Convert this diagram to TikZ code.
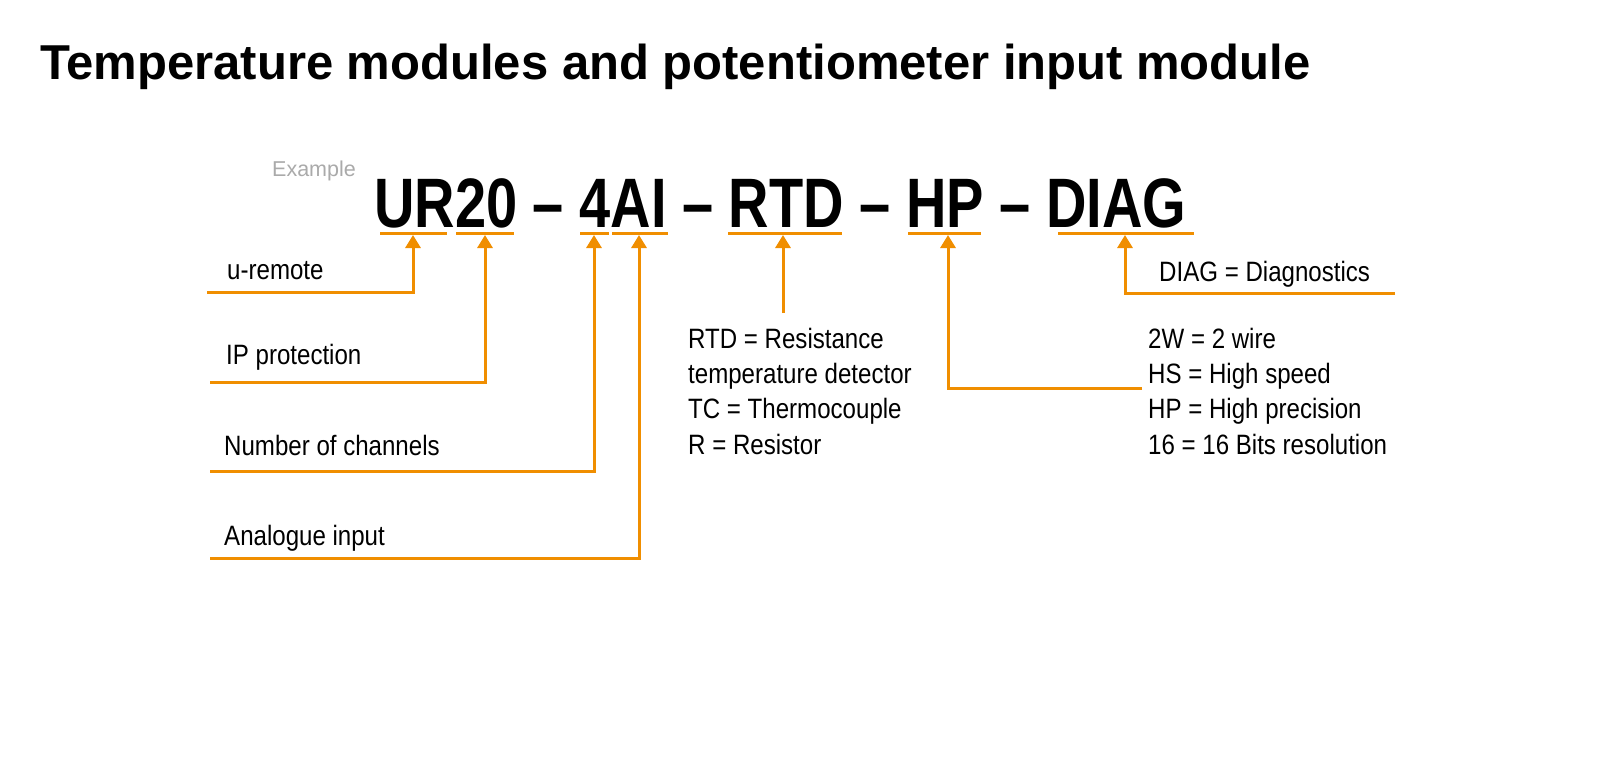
\documentclass[tikz,border=0pt]{standalone}
\usepackage{fontspec}
\setmainfont{Liberation Sans}
\newfontfamily\narrowfont{Liberation Sans}[FakeStretch=0.86]
\newfontfamily\codefont{Liberation Sans Bold}[FakeStretch=0.80]
\usetikzlibrary{arrows.meta}
\definecolor{wmorange}{RGB}{240,142,0}
\definecolor{examplegray}{RGB}{170,170,170}
\tikzset{
  lbl/.style={anchor=base west, inner sep=0pt, font=\narrowfont\fontsize{28}{34}\selectfont, text=black},
  uline/.style={draw=wmorange, line width=3pt},
  conn/.style={draw=wmorange, line width=3pt, line join=miter, -{Triangle[length=13pt,width=15pt]}},
}
\begin{document}
\begin{tikzpicture}[x=1pt,y=-1pt]
\useasboundingbox[fill=white] (0,0) rectangle (1600,765);
% title
\node[anchor=base west, inner sep=0pt, font=\bfseries\fontsize{49}{57}\selectfont] (title) at (40,80) {Temperature modules and potentiometer input module};
\node[anchor=base west, inner sep=0pt, text=examplegray, font=\fontsize{21.5}{25}\selectfont] (example) at (272,176) {Example};
% code
\node[anchor=base west, inner sep=0pt, font=\codefont\fontsize{70}{80}\selectfont] (code) at (374,227) {UR20 – 4AI – RTD – HP – DIAG};
% underline anchor points
\coordinate (uUR) at (413,235);
\coordinate (u20) at (485,235);
\coordinate (u4) at (594,235);
\coordinate (uAI) at (639,235);
\coordinate (uRTD) at (783,235);
\coordinate (uHP) at (948,235);
\coordinate (uDIAG) at (1125,235);
\draw[uline] (380,233.5) -- (447,233.5);
\draw[uline] (456,233.5) -- (514,233.5);
\draw[uline] (580,233.5) -- (609,233.5);
\draw[uline] (612,233.5) -- (668,233.5);
\draw[uline] (728,233.5) -- (842,233.5);
\draw[uline] (908,233.5) -- (981,233.5);
\draw[uline] (1058,233.5) -- (1194,233.5);
% left labels
\node[lbl] (lur) at (227,279) {u-remote};
\node[lbl] (lip) at (226,364) {IP protection};
\node[lbl] (lnum) at (224,455) {Number of channels};
\node[lbl] (lana) at (224,545) {Analogue input};
\coordinate (sUR) at (207,292);
\coordinate (sIP) at (210,382);
\coordinate (sNUM) at (210,471);
\coordinate (sANA) at (210,558);
\draw[conn] (sUR) -| (uUR);
\draw[conn] (sIP) -| (u20);
\draw[conn] (sNUM) -| (u4);
\draw[conn] (sANA) -| (uAI);
% RTD block
\coordinate (sRTD) at (783,313);
\draw[conn] (sRTD) -- (uRTD);
\node[lbl] (rtd1) at (688,348) {RTD = Resistance};
\node[lbl] (rtd2) at (688,383.3) {temperature detector};
\node[lbl] (rtd3) at (688,418.6) {TC = Thermocouple};
\node[lbl] (rtd4) at (688,454) {R = Resistor};
% HP block
\coordinate (sHP) at (1142,388);
\draw[conn] (sHP) -| (uHP);
\node[lbl] (hp1) at (1148,348) {2W = 2 wire};
\node[lbl] (hp2) at (1148,383.3) {HS = High speed};
\node[lbl] (hp3) at (1148,418.6) {HP = High precision};
\node[lbl] (hp4) at (1148,454) {16 = 16 Bits resolution};
% DIAG
\coordinate (sDIAG) at (1395,293);
\draw[conn] (sDIAG) -| (uDIAG);
\node[lbl] (ldiag) at (1159,281) {DIAG = Diagnostics};
\end{tikzpicture}
\end{document}
